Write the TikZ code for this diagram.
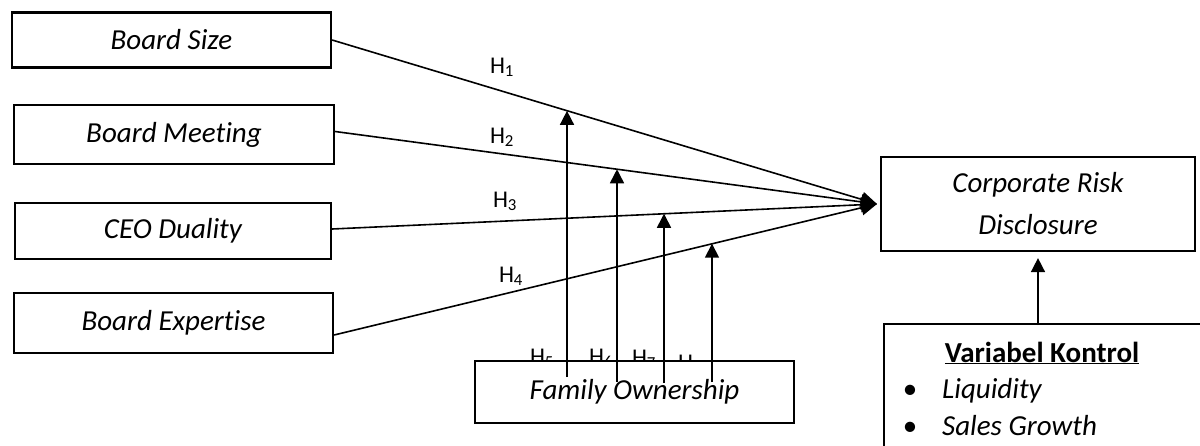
\documentclass[tikz,border=0pt]{standalone}
\usepackage{fontspec}
\setmainfont[Ligatures=NoCommon]{Carlito}
\usetikzlibrary{arrows.meta}
\begin{document}
\begin{tikzpicture}[x=1pt,y=-1pt,
  varbox/.style={draw,line width=2.2pt,inner sep=0pt,font=\fontsize{29}{35}\selectfont\itshape},
  link/.style={line width=1.6pt,-{Triangle[length=16pt,width=15pt]}},
  modarrow/.style={line width=1.6pt,-{Triangle[length=14pt,width=14pt]}},
  hlabel/.style={anchor=base,inner sep=0pt,font=\fontsize{24}{28}\selectfont}]
\useasboundingbox (0,0) rectangle (1200,445);
% left variables
\node[varbox,minimum width=319pt,minimum height=55pt] (bs) at (171.5,40) {\raisebox{-2pt}{Board Size}};
\node[varbox,minimum width=320pt,minimum height=59pt] (bm) at (174,134.5) {\raisebox{-1pt}{Board Meeting}};
\node[varbox,minimum width=316pt,minimum height=56pt] (ceo) at (173,231) {\raisebox{-1pt}{CEO Duality}};
\node[varbox,minimum width=319pt,minimum height=60pt] (be) at (173.5,323) {Board Expertise};
% dependent
\node[varbox,minimum width=314pt,minimum height=94pt,align=center,
  font=\fontsize{29}{42}\selectfont\itshape] (crd) at (1038,204) {Corporate Risk\\Disclosure};
% hypothesis labels H1-H4
\node[hlabel] (h1) at (502,73) {H\textsubscript{1}};
\node[hlabel] (h2) at (502,143) {H\textsubscript{2}};
\node[hlabel] (h3) at (505,207) {H\textsubscript{3}};
\node[hlabel] (h4) at (511,282) {H\textsubscript{4}};
% labels H5-H8 (partly hidden by the moderator box)
\node[hlabel] (h5) at (542,364) {H\textsubscript{5}};
\node[hlabel] (h6) at (601,364) {H\textsubscript{6}};
\node[hlabel] (h7) at (644,365) {H\textsubscript{7}};
\node[hlabel] (h8) at (690,370) {H\textsubscript{8}};
% moderator box
\node[varbox,fill=white,minimum width=319pt,minimum height=62pt] (fo) at (634.5,392) {\raisebox{-3pt}{Family Ownership}};
% control box
\node[draw,line width=2.2pt,fill=white,anchor=north west,minimum width=340pt,minimum height=150pt,inner sep=0pt] (vk) at (883,323) {};
\node[anchor=base,inner sep=0pt,font=\fontsize{29}{35}\selectfont\bfseries] (vkt) at (1042,362) {\underline{Variabel Kontrol}};
\node[anchor=base,inner sep=0pt,font=\fontsize{29}{35}\selectfont] (b1) at (910,398) {\textbullet};
\node[anchor=base west,inner sep=0pt,font=\fontsize{29}{35}\selectfont\itshape] (l1) at (942,398) {Liquidity};
\node[anchor=base,inner sep=0pt,font=\fontsize{29}{35}\selectfont] (b2) at (910,435) {\textbullet};
\node[anchor=base west,inner sep=0pt,font=\fontsize{29}{35}\selectfont\itshape] (l2) at (942,435) {Sales Growth};
% main links
\coordinate (tip) at (877,204);
\draw[link] (bs.east) -- coordinate[pos=0.432] (m1) (tip);
\draw[link] ([yshift=3pt]bm.east) -- coordinate[pos=0.521] (m2) (tip);
\draw[link] ([yshift=2pt]ceo.east) -- coordinate[pos=0.610] (m3) (tip);
\draw[link] ([yshift=-12pt]be.east) -- coordinate[pos=0.697] (m4) (tip);
% moderating arrows
\coordinate (f1) at (567,377);
\coordinate (f2) at (617,382);
\coordinate (f3) at (664,383);
\coordinate (f4) at (712,382);
\draw[modarrow] (f1) -- (f1 |- m1);
\draw[modarrow] (f2) -- (f2 |- m2);
\draw[modarrow] (f3) -- (f3 |- m3);
\draw[modarrow] (f4) -- (f4 |- m4);
% control arrow
\draw[modarrow,shorten >=6pt] ([yshift=-2pt]crd.south |- vk.north) -- (crd.south);
\end{tikzpicture}
\end{document}
